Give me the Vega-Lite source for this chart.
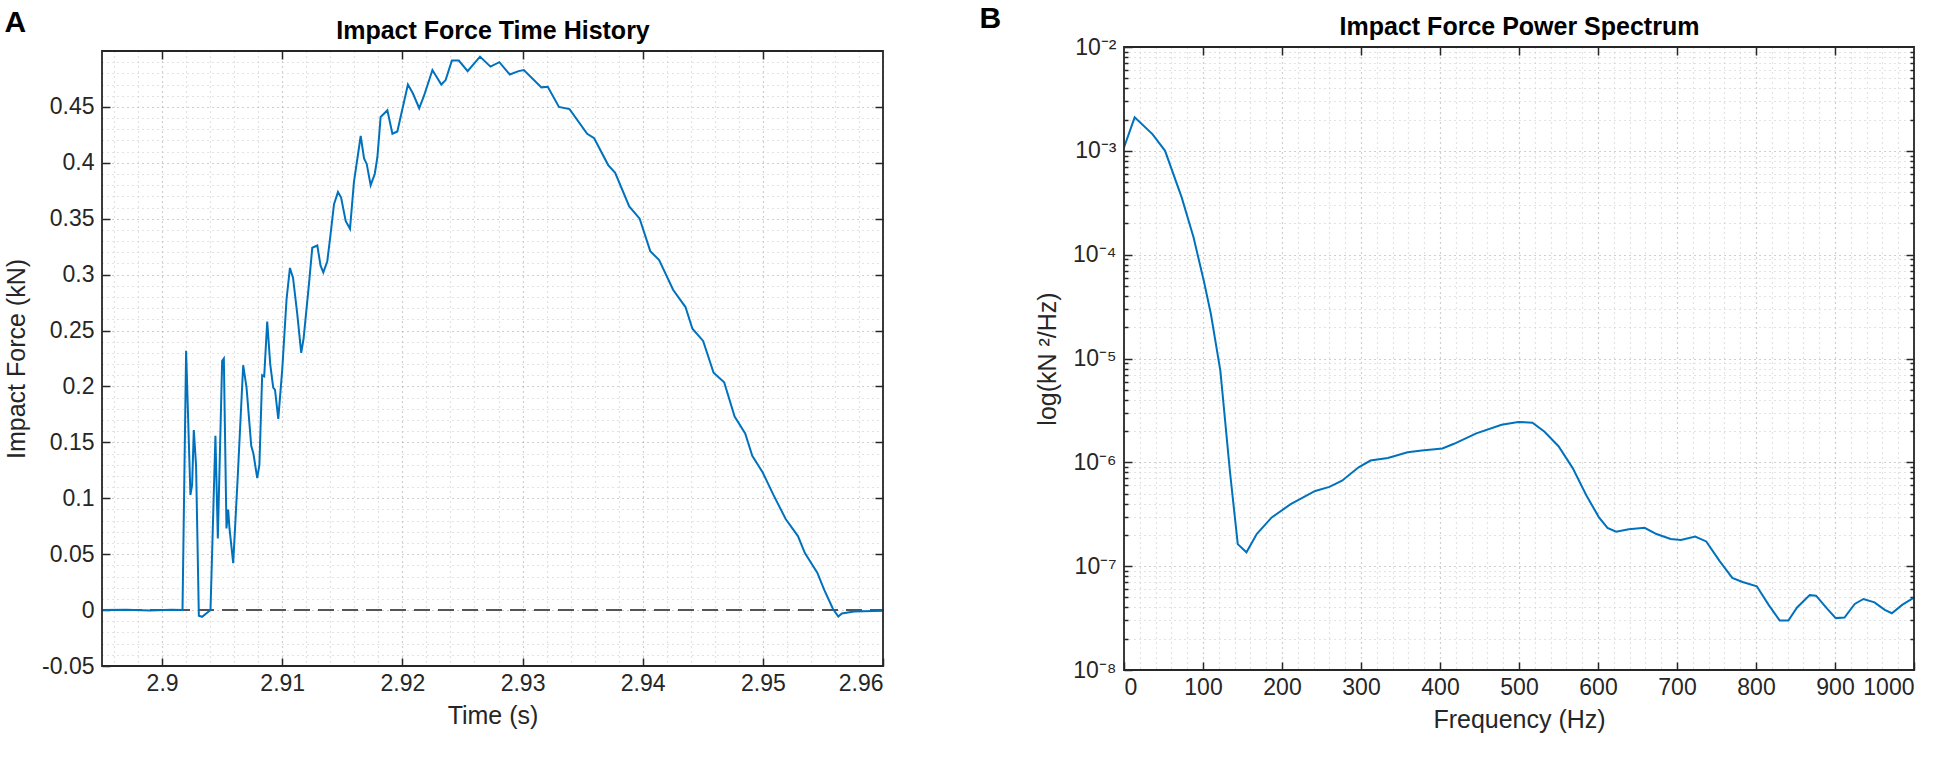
{
  "$schema": "https://vega.github.io/schema/vega-lite/v6.json",
  "background": "white",
  "padding": {"left": 4, "top": 4, "right": 10, "bottom": 5},
  "config": {
    "font": "Liberation Sans",
    "view": {"stroke": null},
    "axis": {
      "labelFont": "Liberation Sans",
      "titleFont": "Liberation Sans",
      "labelColor": "#262626",
      "titleColor": "#262626",
      "titleFontWeight": "normal",
      "labelFontSize": 23,
      "titleFontSize": 25,
      "domain": false,
      "tickColor": "#262626",
      "tickWidth": 1.5,
      "labelOverlap": false
    },
    "title": {"font": "Liberation Sans"}
  },
  "bounds": "flush",
  "spacing": 241,
  "center": true,
  "datasets": {
    "force": [
      {"t": 2.895, "f": 0}, {"t": 2.897, "f": 0.0003}, {"t": 2.899, "f": -0.0003}, {"t": 2.9008, "f": 0.0002},
      {"t": 2.9017, "f": 0}, {"t": 2.902, "f": 0.232}, {"t": 2.90236, "f": 0.103}, {"t": 2.9025, "f": 0.112},
      {"t": 2.90264, "f": 0.161}, {"t": 2.90283, "f": 0.129}, {"t": 2.90306, "f": -0.005}, {"t": 2.90333, "f": -0.006},
      {"t": 2.9038, "f": -0.002}, {"t": 2.90403, "f": 0}, {"t": 2.90444, "f": 0.156}, {"t": 2.90464, "f": 0.064},
      {"t": 2.905, "f": 0.223}, {"t": 2.90514, "f": 0.225}, {"t": 2.90536, "f": 0.073}, {"t": 2.9055, "f": 0.09},
      {"t": 2.90561, "f": 0.073}, {"t": 2.90592, "f": 0.042}, {"t": 2.9063, "f": 0.12}, {"t": 2.90675, "f": 0.219},
      {"t": 2.90703, "f": 0.199}, {"t": 2.90742, "f": 0.147}, {"t": 2.9076, "f": 0.14}, {"t": 2.90792, "f": 0.118},
      {"t": 2.9081, "f": 0.13}, {"t": 2.90833, "f": 0.21}, {"t": 2.9085, "f": 0.209}, {"t": 2.90875, "f": 0.258},
      {"t": 2.909, "f": 0.22}, {"t": 2.90925, "f": 0.199}, {"t": 2.9094, "f": 0.197}, {"t": 2.90967, "f": 0.171},
      {"t": 2.91, "f": 0.215}, {"t": 2.91036, "f": 0.278}, {"t": 2.91064, "f": 0.306}, {"t": 2.9109, "f": 0.297},
      {"t": 2.91125, "f": 0.265}, {"t": 2.91158, "f": 0.23}, {"t": 2.91178, "f": 0.243}, {"t": 2.91222, "f": 0.291},
      {"t": 2.9125, "f": 0.324}, {"t": 2.91292, "f": 0.326}, {"t": 2.91319, "f": 0.308}, {"t": 2.91342, "f": 0.302},
      {"t": 2.91375, "f": 0.312}, {"t": 2.914, "f": 0.334}, {"t": 2.91431, "f": 0.363}, {"t": 2.91464, "f": 0.374},
      {"t": 2.9149, "f": 0.369}, {"t": 2.91528, "f": 0.348}, {"t": 2.91564, "f": 0.341}, {"t": 2.91597, "f": 0.383},
      {"t": 2.91653, "f": 0.424}, {"t": 2.91681, "f": 0.404}, {"t": 2.91703, "f": 0.399}, {"t": 2.91736, "f": 0.38},
      {"t": 2.9177, "f": 0.39}, {"t": 2.91792, "f": 0.405}, {"t": 2.91819, "f": 0.441}, {"t": 2.91875, "f": 0.447},
      {"t": 2.91917, "f": 0.426}, {"t": 2.91958, "f": 0.428}, {"t": 2.92046, "f": 0.47}, {"t": 2.92088, "f": 0.462},
      {"t": 2.9214, "f": 0.4488}, {"t": 2.9218, "f": 0.46}, {"t": 2.9225, "f": 0.483}, {"t": 2.92324, "f": 0.47},
      {"t": 2.9236, "f": 0.474}, {"t": 2.92412, "f": 0.4915}, {"t": 2.9247, "f": 0.4915}, {"t": 2.92543, "f": 0.482},
      {"t": 2.92646, "f": 0.495}, {"t": 2.92733, "f": 0.486}, {"t": 2.92807, "f": 0.49}, {"t": 2.92894, "f": 0.479},
      {"t": 2.92967, "f": 0.482}, {"t": 2.93011, "f": 0.483}, {"t": 2.93157, "f": 0.4675}, {"t": 2.9321, "f": 0.468},
      {"t": 2.93303, "f": 0.45}, {"t": 2.93391, "f": 0.448}, {"t": 2.93538, "f": 0.426}, {"t": 2.93596, "f": 0.422},
      {"t": 2.93713, "f": 0.398}, {"t": 2.93771, "f": 0.391}, {"t": 2.93888, "f": 0.361}, {"t": 2.93975, "f": 0.35},
      {"t": 2.94063, "f": 0.321}, {"t": 2.94137, "f": 0.313}, {"t": 2.94253, "f": 0.2865}, {"t": 2.94356, "f": 0.271},
      {"t": 2.94414, "f": 0.2516}, {"t": 2.94503, "f": 0.2407}, {"t": 2.9459, "f": 0.2123}, {"t": 2.94678, "f": 0.2037},
      {"t": 2.94765, "f": 0.173}, {"t": 2.94853, "f": 0.158}, {"t": 2.94912, "f": 0.138}, {"t": 2.94999, "f": 0.123},
      {"t": 2.95087, "f": 0.1033}, {"t": 2.9519, "f": 0.0815}, {"t": 2.95292, "f": 0.0662}, {"t": 2.9535, "f": 0.051},
      {"t": 2.95453, "f": 0.0335}, {"t": 2.95511, "f": 0.018}, {"t": 2.95584, "f": 0.001}, {"t": 2.95628, "f": -0.0057},
      {"t": 2.95658, "f": -0.003}, {"t": 2.95759, "f": -0.0013}, {"t": 2.96, "f": -0.0005}
    ],
    "psd": [
      {"freq": 0, "p": 1.08e-3}, {"freq": 13.5, "p": 2.1e-3}, {"freq": 36, "p": 1.45e-3}, {"freq": 52, "p": 1.0e-3},
      {"freq": 73, "p": 3.56e-4}, {"freq": 88, "p": 1.47e-4}, {"freq": 101, "p": 5.6e-5}, {"freq": 110, "p": 2.68e-5},
      {"freq": 122, "p": 7.6e-6}, {"freq": 134, "p": 8.3e-7}, {"freq": 144, "p": 1.63e-7}, {"freq": 155, "p": 1.36e-7},
      {"freq": 168, "p": 2.04e-7}, {"freq": 187, "p": 2.95e-7}, {"freq": 211, "p": 3.95e-7}, {"freq": 242, "p": 5.3e-7},
      {"freq": 260, "p": 5.8e-7}, {"freq": 276, "p": 6.65e-7}, {"freq": 297, "p": 8.95e-7}, {"freq": 312, "p": 1.04e-6},
      {"freq": 334, "p": 1.1e-6}, {"freq": 359, "p": 1.25e-6}, {"freq": 377, "p": 1.3e-6}, {"freq": 403, "p": 1.36e-6},
      {"freq": 417, "p": 1.5e-6}, {"freq": 446, "p": 1.9e-6}, {"freq": 478, "p": 2.3e-6}, {"freq": 499, "p": 2.45e-6},
      {"freq": 517, "p": 2.41e-6}, {"freq": 532, "p": 1.98e-6}, {"freq": 550, "p": 1.43e-6}, {"freq": 568, "p": 8.8e-7},
      {"freq": 585, "p": 4.84e-7}, {"freq": 601, "p": 2.97e-7}, {"freq": 612, "p": 2.34e-7}, {"freq": 623, "p": 2.15e-7},
      {"freq": 639, "p": 2.27e-7}, {"freq": 659, "p": 2.34e-7}, {"freq": 674, "p": 2.04e-7}, {"freq": 692, "p": 1.83e-7},
      {"freq": 705, "p": 1.79e-7}, {"freq": 723, "p": 1.93e-7}, {"freq": 737, "p": 1.73e-7}, {"freq": 754, "p": 1.12e-7},
      {"freq": 770, "p": 7.7e-8}, {"freq": 783, "p": 7.05e-8}, {"freq": 801, "p": 6.4e-8}, {"freq": 816, "p": 4.24e-8},
      {"freq": 830, "p": 3.0e-8}, {"freq": 841, "p": 3.0e-8}, {"freq": 852, "p": 4.0e-8}, {"freq": 868, "p": 5.26e-8},
      {"freq": 876, "p": 5.2e-8}, {"freq": 890, "p": 3.9e-8}, {"freq": 901, "p": 3.16e-8}, {"freq": 912, "p": 3.2e-8},
      {"freq": 925, "p": 4.33e-8}, {"freq": 936, "p": 4.83e-8}, {"freq": 950, "p": 4.48e-8}, {"freq": 963, "p": 3.8e-8},
      {"freq": 972, "p": 3.52e-8}, {"freq": 985, "p": 4.24e-8}, {"freq": 1000, "p": 4.98e-8}
    ]
  },
  "hconcat": [
    {
      "width": 781,
      "height": 615,
      "title": {"text": "A", "anchor": "start", "frame": "bounds", "fontSize": 30, "fontWeight": "bold", "color": "black", "offset": -20},
      "resolve": {"axis": {"x": "independent", "y": "independent"}},
      "layer": [
        {
          "data": {"values": [{}]},
          "mark": {"type": "rule", "strokeDash": [16, 8], "color": "#555555", "strokeWidth": 2},
          "encoding": {
            "x": {"datum": 2.895, "type": "quantitative", "axis": null, "scale": {"domain": [2.895, 2.96], "nice": false, "zero": false}},
            "x2": {"datum": 2.96},
            "y": {"datum": 0, "type": "quantitative", "axis": null, "scale": {"domain": [-0.05, 0.5], "nice": false, "zero": false}}
          }
        },
        {
          "data": {"name": "force"},
          "mark": {"type": "line", "color": "#0072BD", "strokeWidth": 2, "clip": true},
          "encoding": {
            "x": {
              "field": "t", "type": "quantitative",
              "scale": {"domain": [2.895, 2.96], "nice": false, "zero": false},
              "axis": {
                "orient": "bottom", "title": "Time (s)",
                "values": [2.896, 2.898, 2.9, 2.902, 2.904, 2.906, 2.908, 2.91, 2.912, 2.914, 2.916, 2.918, 2.92, 2.922, 2.924, 2.926, 2.928, 2.93, 2.932, 2.934, 2.936, 2.938, 2.94, 2.942, 2.944, 2.946, 2.948, 2.95, 2.952, 2.954, 2.956, 2.958, 2.96],
                "labelExpr": "abs(datum.value*100 - round(datum.value*100)) < 0.001 ? toString(round(datum.value*100)/100) : ''",
                "tickSize": -8,
                "tickOpacity": {"condition": {"test": "abs(datum.value*100 - round(datum.value*100)) < 0.001", "value": 1}, "value": 0},
                "labelPadding": 14, "titlePadding": 8,
                "grid": true, "gridDash": [1, 4], "gridWidth": 1.2,
                "gridColor": {"condition": {"test": "abs(datum.value*100 - round(datum.value*100)) < 0.001", "value": "#a0a0a0"}, "value": "#c8c8c8"}
              }
            },
            "y": {
              "field": "f", "type": "quantitative",
              "scale": {"domain": [-0.05, 0.5], "nice": false, "zero": false},
              "axis": {
                "orient": "left", "title": "Impact Force (kN)",
                "values": [-0.05, -0.04, -0.03, -0.02, -0.01, 0, 0.01, 0.02, 0.03, 0.04, 0.05, 0.06, 0.07, 0.08, 0.09, 0.1, 0.11, 0.12, 0.13, 0.14, 0.15, 0.16, 0.17, 0.18, 0.19, 0.2, 0.21, 0.22, 0.23, 0.24, 0.25, 0.26, 0.27, 0.28, 0.29, 0.3, 0.31, 0.32, 0.33, 0.34, 0.35, 0.36, 0.37, 0.38, 0.39, 0.4, 0.41, 0.42, 0.43, 0.44, 0.45, 0.46, 0.47, 0.48, 0.49],
                "labelExpr": "abs(datum.value*20 - round(datum.value*20)) < 0.001 ? toString(round(datum.value*100)/100) : ''",
                "tickSize": -8,
                "tickOpacity": {"condition": {"test": "abs(datum.value*20 - round(datum.value*20)) < 0.001", "value": 1}, "value": 0},
                "labelPadding": 16, "titlePadding": 12,
                "grid": true, "gridDash": [1, 4], "gridWidth": 1.2,
                "gridColor": {"condition": {"test": "abs(datum.value*20 - round(datum.value*20)) < 0.001", "value": "#a0a0a0"}, "value": "#c8c8c8"}
              }
            }
          }
        },
        {
          "data": {"values": [{}]},
          "mark": {"type": "rect", "fillOpacity": 0, "stroke": "#262626", "strokeWidth": 1.8},
          "encoding": {
            "x": {
              "datum": 2.895, "type": "quantitative",
              "scale": {"domain": [2.895, 2.96], "nice": false, "zero": false},
              "axis": {
                "orient": "top", "title": "Impact Force Time History", "titleFontSize": 25, "titleFontWeight": "bold", "titleColor": "black",
                "values": [2.9, 2.91, 2.92, 2.93, 2.94, 2.95], "labels": false, "tickSize": -8, "titlePadding": 7, "grid": false
              }
            },
            "x2": {"datum": 2.96},
            "y": {
              "datum": -0.05, "type": "quantitative",
              "scale": {"domain": [-0.05, 0.5], "nice": false, "zero": false},
              "axis": {"orient": "right", "title": null, "values": [0, 0.05, 0.1, 0.15, 0.2, 0.25, 0.3, 0.35, 0.4, 0.45], "labels": false, "tickSize": -8, "grid": false}
            },
            "y2": {"datum": 0.5}
          }
        }
      ]
    },
    {
      "width": 790,
      "height": 623,
      "title": {"text": "B", "anchor": "start", "frame": "bounds", "fontSize": 30, "fontWeight": "bold", "color": "black", "offset": -20, "dx": -56},
      "resolve": {"axis": {"x": "independent", "y": "independent"}},
      "layer": [
        {
          "data": {"name": "psd"},
          "mark": {"type": "line", "color": "#0072BD", "strokeWidth": 2, "clip": true},
          "encoding": {
            "x": {
              "field": "freq", "type": "quantitative",
              "scale": {"domain": [0, 1000], "nice": false},
              "axis": {
                "orient": "bottom", "title": "Frequency (Hz)",
                "values": [0, 20, 40, 60, 80, 100, 120, 140, 160, 180, 200, 220, 240, 260, 280, 300, 320, 340, 360, 380, 400, 420, 440, 460, 480, 500, 520, 540, 560, 580, 600, 620, 640, 660, 680, 700, 720, 740, 760, 780, 800, 820, 840, 860, 880, 900, 920, 940, 960, 980, 1000],
                "labelExpr": "datum.value % 100 == 0 ? toString(datum.value) : ''",
                "tickSize": -8,
                "tickOpacity": {"condition": {"test": "datum.value % 100 == 0", "value": 1}, "value": 0},
                "labelPadding": 14, "titlePadding": 8,
                "grid": true, "gridDash": [1, 4], "gridWidth": 1.2,
                "gridColor": {"condition": {"test": "datum.value % 100 == 0", "value": "#a0a0a0"}, "value": "#c8c8c8"}
              }
            },
            "y": {
              "field": "p", "type": "quantitative",
              "scale": {"type": "log", "domain": [1e-8, 1e-2], "nice": false},
              "axis": {
                "orient": "left", "title": "log(kN ²/Hz)",
                "values": [1e-8, 2e-8, 3e-8, 4e-8, 5e-8, 6e-8, 7e-8, 8e-8, 9e-8, 1e-7, 2e-7, 3e-7, 4e-7, 5e-7, 6e-7, 7e-7, 8e-7, 9e-7, 1e-6, 2e-6, 3e-6, 4e-6, 5e-6, 6e-6, 7e-6, 8e-6, 9e-6, 1e-5, 2e-5, 3e-5, 4e-5, 5e-5, 6e-5, 7e-5, 8e-5, 9e-5, 1e-4, 2e-4, 3e-4, 4e-4, 5e-4, 6e-4, 7e-4, 8e-4, 9e-4, 1e-3, 2e-3, 3e-3, 4e-3, 5e-3, 6e-3, 7e-3, 8e-3, 9e-3, 1e-2],
                "labelExpr": "abs(log(datum.value)/LN10 - round(log(datum.value)/LN10)) < 0.01 ? '10⁻' + ['⁰','¹','²','³','⁴','⁵','⁶','⁷','⁸','⁹'][round(-log(datum.value)/LN10)] : ''",
                "tickSize": {"condition": {"test": "abs(log(datum.value)/LN10 - round(log(datum.value)/LN10)) < 0.01", "value": -8}, "value": -4},
                "labelPadding": 16, "titlePadding": 12,
                "grid": true, "gridDash": [1, 4], "gridWidth": 1.2,
                "gridColor": {"condition": {"test": "abs(log(datum.value)/LN10 - round(log(datum.value)/LN10)) < 0.01", "value": "#a0a0a0"}, "value": "#c8c8c8"}
              }
            }
          }
        },
        {
          "data": {"values": [{}]},
          "mark": {"type": "rect", "fillOpacity": 0, "stroke": "#262626", "strokeWidth": 1.8},
          "encoding": {
            "x": {
              "datum": 0, "type": "quantitative",
              "scale": {"domain": [0, 1000], "nice": false},
              "axis": {
                "orient": "top", "title": "Impact Force Power Spectrum", "titleFontSize": 25, "titleFontWeight": "bold", "titleColor": "black",
                "values": [100, 200, 300, 400, 500, 600, 700, 800, 900], "labels": false, "tickSize": -8, "titlePadding": 7, "grid": false
              }
            },
            "x2": {"datum": 1000},
            "y": {
              "datum": 1e-8, "type": "quantitative",
              "scale": {"type": "log", "domain": [1e-8, 1e-2], "nice": false},
              "axis": {
                "orient": "right", "title": null, "labels": false, "grid": false,
                "values": [2e-8, 3e-8, 4e-8, 5e-8, 6e-8, 7e-8, 8e-8, 9e-8, 1e-7, 2e-7, 3e-7, 4e-7, 5e-7, 6e-7, 7e-7, 8e-7, 9e-7, 1e-6, 2e-6, 3e-6, 4e-6, 5e-6, 6e-6, 7e-6, 8e-6, 9e-6, 1e-5, 2e-5, 3e-5, 4e-5, 5e-5, 6e-5, 7e-5, 8e-5, 9e-5, 1e-4, 2e-4, 3e-4, 4e-4, 5e-4, 6e-4, 7e-4, 8e-4, 9e-4, 1e-3, 2e-3, 3e-3, 4e-3, 5e-3, 6e-3, 7e-3, 8e-3, 9e-3],
                "tickSize": {"condition": {"test": "abs(log(datum.value)/LN10 - round(log(datum.value)/LN10)) < 0.01", "value": -8}, "value": -4}
              }
            },
            "y2": {"datum": 1e-2}
          }
        }
      ]
    }
  ]
}
